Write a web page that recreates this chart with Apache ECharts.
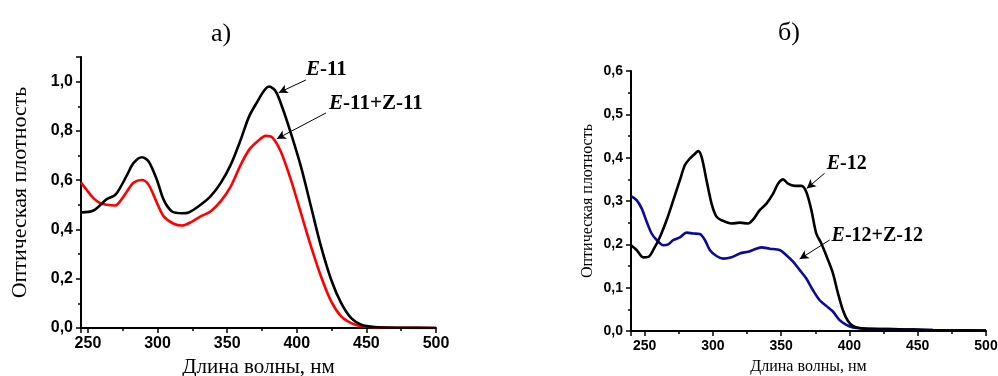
<!DOCTYPE html>
<html>
<head>
<meta charset="utf-8">
<script src="https://cdn.jsdelivr.net/npm/echarts@6/dist/echarts.min.js"></script>
<style>
  html, body { margin: 0; padding: 0; background: #fff; }
  #chart { width: 998px; height: 376px; }
</style>
</head>
<body>
<div id="chart"></div>
<script>
// а) E-11 / E-11+Z-11
const e11X = [245, 254, 263.5, 269.5, 273, 278, 282.8, 288.8, 293.6, 299.6, 304.4, 310.4, 317.6, 322.4, 330.9, 338, 345.3, 352.5, 359.7, 365.7, 371.7, 376.6, 380.2, 385, 389.8, 395.8, 403, 410.2, 417.4, 424.7, 431.9, 439.1, 446.3, 455.9, 475, 500];
const e11Y = [0.469, 0.477, 0.523, 0.54, 0.568, 0.62, 0.67, 0.693, 0.676, 0.6, 0.52, 0.473, 0.466, 0.469, 0.5, 0.534, 0.588, 0.662, 0.764, 0.858, 0.919, 0.964, 0.98, 0.959, 0.892, 0.79, 0.655, 0.493, 0.331, 0.196, 0.101, 0.04, 0.0135, 0.004, 0.001, 0];
const e11zX = [245, 249, 253.9, 258.7, 263.5, 269.5, 273, 278, 282.8, 288.8, 293.6, 299.6, 304.4, 311.6, 317.6, 324.8, 330.9, 338, 345.3, 352.5, 359.7, 365.7, 371.7, 377.7, 382.5, 388.5, 395.8, 403, 410.2, 417.4, 424.7, 431.9, 439.1, 446.3, 455.9, 475, 500];
const e11zY = [0.59, 0.561, 0.527, 0.507, 0.5, 0.497, 0.514, 0.554, 0.59, 0.601, 0.581, 0.507, 0.453, 0.423, 0.416, 0.432, 0.453, 0.473, 0.514, 0.574, 0.662, 0.723, 0.757, 0.78, 0.773, 0.716, 0.601, 0.466, 0.331, 0.209, 0.108, 0.047, 0.02, 0.007, 0.003, 0.001, 0];

// б) E-12 / E-12+Z-12
const e12X = [240, 244.1, 249, 252.7, 256.3, 261.2, 266.1, 271, 275.8, 279.5, 283.1, 286.8, 289.2, 291.7, 295.3, 299, 302.6, 307.5, 313.6, 319.7, 325.8, 329.4, 334.3, 339.2, 344.1, 347.7, 351.4, 355, 359.9, 364.8, 368.4, 372.1, 375.7, 379.4, 384.3, 387.9, 391.6, 395.2, 398.9, 402.5, 407.4, 417.1, 436.6, 461, 500];
const e12Y = [0.198, 0.187, 0.17, 0.171, 0.187, 0.217, 0.256, 0.302, 0.348, 0.383, 0.398, 0.409, 0.415, 0.402, 0.348, 0.294, 0.264, 0.254, 0.248, 0.25, 0.248, 0.257, 0.279, 0.294, 0.317, 0.34, 0.35, 0.34, 0.335, 0.335, 0.321, 0.279, 0.225, 0.202, 0.164, 0.133, 0.087, 0.048, 0.023, 0.012, 0.007, 0.005, 0.004, 0.002, 0.001];
const e12zX = [240, 244.1, 247.8, 251.5, 255.1, 258.8, 263.6, 267.3, 271, 275.8, 280.7, 285.6, 290.4, 294.1, 297.7, 302.6, 307.5, 313.6, 319.7, 325.8, 329.4, 335.5, 341.6, 348.9, 353.8, 358.7, 363.5, 368.4, 373.3, 378.2, 383, 387.9, 392.8, 397.7, 402.5, 412.3, 436.6, 461, 500];
const e12zY = [0.311, 0.302, 0.283, 0.252, 0.225, 0.21, 0.198, 0.2, 0.21, 0.216, 0.227, 0.225, 0.224, 0.21, 0.187, 0.173, 0.167, 0.17, 0.179, 0.183, 0.187, 0.193, 0.19, 0.187, 0.175, 0.16, 0.141, 0.121, 0.094, 0.071, 0.058, 0.045, 0.025, 0.014, 0.008, 0.005, 0.004, 0.002, 0.001];

const zip = (xs, ys) => xs.map((x, i) => [x, ys[i]]);
const comma = v => v.toFixed(1).replace('.', ',');

const serif = 'Liberation Serif';
const sans = 'Liberation Sans';

const chart = echarts.init(document.getElementById('chart'));

function xAxis(gridIndex, min, fs, nameFs, nameGap) {
  return {
    type: 'value', gridIndex, min, max: 500, splitNumber: 5,
    name: 'Длина волны, нм', nameLocation: 'middle', nameGap,
    nameTextStyle: { fontFamily: serif, fontSize: nameFs, color: '#000' },
    axisLine: { onZero: false, lineStyle: { color: '#000', width: 2 } },
    axisTick: { inside: false, length: 5, lineStyle: { color: '#000', width: 1.5 } },
    minorTick: { show: true, splitNumber: 2, length: 3, lineStyle: { color: '#000', width: 1.5 } },
    axisLabel: { showMinLabel: false, margin: 8, fontFamily: sans, fontWeight: 'bold', fontSize: fs, color: '#000' },
    splitLine: { show: false }
  };
}

function yAxis(gridIndex, max, interval, fs, nameFs, nameGap) {
  return {
    type: 'value', gridIndex, min: 0, max, interval,
    name: 'Оптическая плотность', nameLocation: 'middle', nameGap,
    nameTextStyle: { fontFamily: serif, fontSize: nameFs, color: '#000' },
    axisLine: { show: true, lineStyle: { color: '#000', width: 2 } },
    axisTick: { show: true, inside: false, length: 5, lineStyle: { color: '#000', width: 1.5 } },
    minorTick: { show: true, splitNumber: 2, length: 3, lineStyle: { color: '#000', width: 1.5 } },
    axisLabel: { showMaxLabel: max === 0.6, margin: 8, fontFamily: sans, fontWeight: 'bold', fontSize: fs, color: '#000', formatter: comma },
    splitLine: { show: false }
  };
}

function rich(fs) {
  return {
    i: { fontFamily: serif, fontStyle: 'italic', fontWeight: 'bold', fontSize: fs, color: '#000' },
    b: { fontFamily: serif, fontWeight: 'bold', fontSize: fs, color: '#000' }
  };
}

function note(text, at, fs, from, to) {
  return {
    markPoint: {
      silent: true, symbol: 'rect', symbolSize: 0,
      label: { show: true, position: 'right', distance: 0, formatter: text, rich: rich(fs) },
      data: [{ coord: at }]
    },
    markLine: {
      silent: true, symbol: ['none', 'arrow'], symbolSize: [7, 9],
      lineStyle: { color: '#000', width: 1, type: 'solid' },
      label: { show: false },
      data: [[{ coord: from }, { coord: to }]]
    }
  };
}

function line(name, xi, yi, data, color, extra) {
  return Object.assign({
    type: 'line', name, xAxisIndex: xi, yAxisIndex: yi, data,
    smooth: 0.3, showSymbol: false, symbol: 'none',
    lineStyle: { color, width: 2.6 }, itemStyle: { color }
  }, extra);
}

chart.setOption({
  animation: false,
  backgroundColor: '#fff',
  title: [
    { text: 'а)', left: 216, top: 16, textAlign: 'center',
      textStyle: { fontFamily: serif, fontWeight: 'normal', fontSize: 26, color: '#000' } },
    { text: 'б)', left: 784, top: 15, textAlign: 'center',
      textStyle: { fontFamily: serif, fontWeight: 'normal', fontSize: 26, color: '#000' } }
  ],
  grid: [
    { left: 81, top: 57, right: 562, bottom: 48, outerBoundsMode: 'none', containLabel: false },
    { left: 631, top: 71, right: 12, bottom: 45, outerBoundsMode: 'none', containLabel: false }
  ],
  xAxis: [xAxis(0, 245, 16, 21, 26), xAxis(1, 240, 14, 16, 28)],
  yAxis: [yAxis(0, 1.1, 0.2, 16, 22, 50), yAxis(1, 0.6, 0.1, 14, 16, 35)],
  series: [
    line('E-11+Z-11', 0, 0, zip(e11zX, e11zY), '#ff0000',
      note('{i|E}{b|-11+Z-11}', [423.2, 0.909], 21, [421, 0.873], [385.7, 0.768])),
    line('E-11', 0, 0, zip(e11X, e11Y), '#000000',
      note('{i|E}{b|-11}', [406.6, 1.047], 21, [406.6, 1.007], [387, 0.955])),
    line('E-12+Z-12', 1, 1, zip(e12zX, e12zY), '#0a0a9c',
      note('{i|E}{b|-12+Z-12}', [386.9, 0.219], 20, [385.5, 0.21], [363.5, 0.166])),
    line('E-12', 1, 1, zip(e12X, e12Y), '#000000',
      note('{i|E}{b|-12}', [383.3, 0.385], 20, [381.8, 0.364], [368.7, 0.329]))
  ]
});
window.addEventListener('resize', () => chart.resize());
</script>
</body>
</html>
